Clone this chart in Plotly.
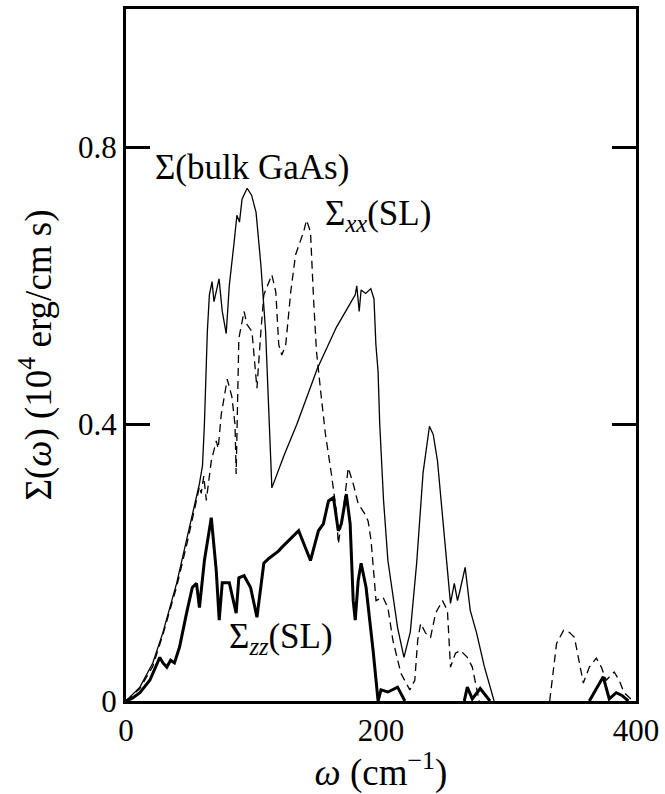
import plotly.graph_objects as go

# Thin solid: Sigma(bulk GaAs)
bulk_x = [0, 10.9, 21, 28.8, 39.7, 47.5, 55.3, 57.6, 60, 61.5, 63.8, 65.4, 67.5, 69, 73, 75.5, 78.6, 81, 84.8, 87, 89, 91, 95, 98.5, 102,
          105.8, 109.5, 114.4, 124, 134, 150, 165, 176, 179.8, 181, 182.9, 184.4, 188, 192, 194.5, 196, 197.7, 199, 202, 205.4,
          213, 218, 223, 228, 233, 238, 241, 244.3, 248, 252, 254.5, 257.5, 260, 262, 266, 270, 275, 281, 288.7]
bulk_y = [0, 0.02, 0.055, 0.098, 0.17, 0.232, 0.294, 0.314, 0.34, 0.40, 0.534, 0.587, 0.606, 0.577, 0.61, 0.563, 0.531, 0.60, 0.663, 0.702,
          0.692, 0.725, 0.741, 0.731, 0.706, 0.63, 0.534, 0.308, 0.355, 0.40, 0.48, 0.54, 0.575, 0.587, 0.60, 0.563, 0.594, 0.589,
          0.596, 0.581, 0.515, 0.476, 0.40, 0.29, 0.203, 0.106, 0.063, 0.10, 0.20, 0.33, 0.397, 0.385, 0.347, 0.27, 0.19, 0.141,
          0.17, 0.145, 0.16, 0.193, 0.131, 0.098, 0.05, 0]

# Dashed: Sigma_xx(SL)  (None = curve lying on the axis)
xx_x = [0, 10.9, 21, 28.8, 39.7, 47.5, 55.3, 57.6, 59, 61, 63, 66.9, 70.8, 72.3, 74.7, 77, 79.4, 83, 85.5, 86.4, 88.5, 92.6, 94.9,
        98.8, 102.7, 105.8, 108.1, 114.4, 117.5, 119.8, 122.2, 125.3, 129.2, 133, 139.3, 141.6, 144.7, 147.1, 149.4, 153.3, 156.4,
        161.1, 165, 166.5, 170.4, 174.3, 178.2, 182.1, 187.5, 189.9, 192.2, 196.1, 201.6, 205.4, 209.3, 215.6, 222.6, 226.5,
        228.8, 231.1, 235, 238.9, 242.8, 248.2, 252.1, 254.5, 258.4, 262.3, 267.7, 271.6, 277, None, 332.3, 337.7, 343.2, 347.9,
        351.7, 358.7, 363.4, 368.9, 372.8, 376.6, 382.9, 386.8, 390.7, 397.7]
xx_y = [0, 0.018, 0.05, 0.095, 0.165, 0.225, 0.29, 0.31, 0.30, 0.325, 0.29, 0.347, 0.376, 0.365, 0.414, 0.44, 0.465, 0.44, 0.40,
        0.328, 0.524, 0.563, 0.544, 0.534, 0.452, 0.534, 0.587, 0.616, 0.591, 0.515, 0.50, 0.515, 0.591, 0.645, 0.678, 0.695,
        0.678, 0.581, 0.505, 0.437, 0.386, 0.328, 0.275, 0.227, 0.275, 0.337, 0.314, 0.285, 0.27, 0.26, 0.232, 0.145, 0.15,
        0.135, 0.088, 0.04, 0.016, 0.03, 0.088, 0.112, 0.098, 0.092, 0.127, 0.145, 0.131, 0.049, 0.069, 0.073, 0.063, 0.049,
        0, None, 0, 0.083, 0.102, 0.099, 0.092, 0.026, 0.049, 0.062, 0.049, 0.03, 0.042, 0.03, 0.012, 0]

# Bold: Sigma_zz(SL)
zz_x = [0, 5, 10.9, 18.7, 26.5, 29, 32, 35, 38, 42, 47.5, 52, 55.3, 57.6, 61.5, 66.9, 70.8, 73.1, 75.5, 81, 86.4, 88.5, 92.6,
        97.7, 102.7, 108.1, 112, 119.8, 122.2, 127.6, 135.4, 144.7, 150.9, 154.8, 158.8, 162.7, 166.5, 168.9, 172.8, 175.8,
        178.2, 179.8, 182.1, 184.4, 188.3, 193.8, 197.7, 200, 205.4, 213, 218.7, None, 265.3, 267.7, 271.6, 277.8, 285.5, None,
        363.4, 374.3, 379, 384.5, 389, 394]
zz_y = [0, 0.004, 0.012, 0.03, 0.063, 0.055, 0.049, 0.059, 0.055, 0.078, 0.127, 0.164, 0.17, 0.135, 0.203, 0.265, 0.188, 0.117,
        0.171, 0.171, 0.127, 0.178, 0.181, 0.164, 0.121, 0.199, 0.206, 0.217, 0.222, 0.232, 0.246, 0.203, 0.246, 0.256, 0.289,
        0.294, 0.246, 0.256, 0.299, 0.256, 0.145, 0.117, 0.174, 0.199, 0.164, 0.073, 0, 0.016, 0.013, 0.02, 0, None, 0, 0.02,
        0.003, 0.018, 0, None, 0, 0.035, 0.003, 0.012, 0.008, 0]

y_ticks = [0, 0.4, 0.8]
y_tick_text = ["0", "0.4", "0.8"]
x_ticks = [0, 200, 400]
x_tick_text = ["0", "200", "400"]

FONT = "Liberation Serif"

fig = go.Figure()
fig.add_trace(go.Scatter(x=bulk_x, y=bulk_y, mode="lines", line=dict(color="black", width=1.3), showlegend=False))
fig.add_trace(go.Scatter(x=xx_x, y=xx_y, mode="lines", connectgaps=False,
                         line=dict(color="black", width=1.3, dash="8px,5px"), showlegend=False))
fig.add_trace(go.Scatter(x=zz_x, y=zz_y, mode="lines", connectgaps=False,
                         line=dict(color="black", width=3), showlegend=False))

fig.add_annotation(x=21, y=0.771, text="Σ(bulk GaAs)", showarrow=False, xanchor="left", yanchor="middle",
                   font=dict(family=FONT, size=35, color="black"))
fig.add_annotation(x=154.5, y=0.702, text="Σ<sub><i>xx</i></sub>(SL)", showarrow=False, xanchor="left", yanchor="middle",
                   font=dict(family=FONT, size=35, color="black"))
fig.add_annotation(x=79, y=0.09, text="Σ<sub><i>zz</i></sub>(SL)", showarrow=False, xanchor="left", yanchor="middle",
                   font=dict(family=FONT, size=35, color="black"))

fig.update_layout(
    width=665, height=794,
    margin=dict(l=126, r=25, t=6, b=93),
    paper_bgcolor="white", plot_bgcolor="white",
    font=dict(family=FONT, size=31, color="black"),
    xaxis=dict(range=[0, 400], tickvals=x_ticks, ticktext=x_tick_text, ticks="", showgrid=False, zeroline=False,
               showline=True, linecolor="black", linewidth=3, mirror=True,
               title=dict(text="<i>ω</i> (cm<sup>−1</sup>)", standoff=6)),
    yaxis=dict(range=[0, 1.0], tickvals=y_ticks, ticktext=y_tick_text, ticks="inside", ticklen=24, tickwidth=3,
               tickcolor="black", showgrid=False, zeroline=False, showline=True, linecolor="black", linewidth=3,
               mirror="ticks", title=dict(text="Σ(<i>ω</i>) (10<sup>4</sup> erg/cm s)", standoff=16)),
)

fig.write_html("out.html")
